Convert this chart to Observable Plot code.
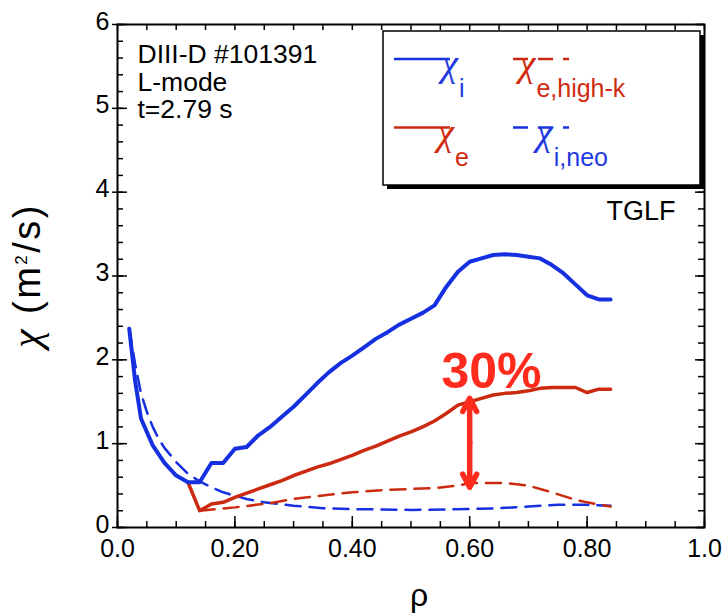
<!DOCTYPE html>
<html><head><meta charset="utf-8">
<script src="https://cdn.jsdelivr.net/npm/d3@7"></script>
<script src="https://cdn.jsdelivr.net/npm/@observablehq/plot@0.6"></script>
<style>body{margin:0;background:#fff}svg{display:block}</style>
</head><body><div id="chart"></div>
<script>
// ---- data ----
const rhoI = [0.02,0.03,0.04,0.06,0.08,0.10,0.12,0.14,0.16,0.18,0.20,0.22,0.24,0.26,0.28,0.30,0.32,0.34,0.36,0.38,0.40,0.42,0.44,0.46,0.48,0.50,0.52,0.54,0.56,0.58,0.60,0.62,0.64,0.66,0.68,0.70,0.72,0.74,0.76,0.78,0.80,0.82,0.84];
const chiI = [2.37,1.75,1.30,0.98,0.77,0.62,0.54,0.54,0.77,0.77,0.94,0.96,1.10,1.20,1.32,1.44,1.58,1.72,1.85,1.96,2.05,2.15,2.25,2.33,2.42,2.49,2.56,2.65,2.87,3.05,3.17,3.21,3.25,3.26,3.25,3.23,3.21,3.13,3.03,2.90,2.77,2.72,2.72];

const rhoE = [0.12,0.14,0.16,0.18,0.20,0.22,0.24,0.26,0.28,0.30,0.32,0.34,0.36,0.38,0.40,0.42,0.44,0.46,0.48,0.50,0.52,0.54,0.56,0.58,0.60,0.62,0.64,0.66,0.68,0.70,0.72,0.74,0.76,0.78,0.80,0.82,0.84];
const chiE = [0.54,0.20,0.28,0.30,0.36,0.41,0.46,0.51,0.56,0.62,0.67,0.72,0.76,0.81,0.86,0.92,0.97,1.03,1.09,1.14,1.20,1.27,1.36,1.46,1.50,1.54,1.58,1.60,1.61,1.63,1.66,1.67,1.67,1.67,1.61,1.65,1.65];

const rhoHighK = [0.14,0.20,0.26,0.30,0.36,0.40,0.46,0.50,0.54,0.58,0.60,0.62,0.66,0.70,0.74,0.78,0.80,0.84];
const chiHighK = [0.20,0.24,0.29,0.34,0.39,0.42,0.45,0.46,0.47,0.50,0.53,0.53,0.53,0.50,0.42,0.33,0.30,0.25];

const rhoNeo = [0.02,0.03,0.04,0.05,0.06,0.07,0.08,0.10,0.12,0.14,0.16,0.18,0.20,0.22,0.25,0.30,0.35,0.40,0.50,0.60,0.65,0.70,0.75,0.80,0.84];
const chiNeo = [2.37,1.95,1.60,1.38,1.20,1.06,0.95,0.78,0.64,0.55,0.48,0.42,0.38,0.34,0.30,0.26,0.23,0.22,0.21,0.22,0.23,0.25,0.27,0.27,0.26];

const xTicks = [0, 0.2, 0.4, 0.6, 0.8, 1.0];
const xTickLabels = ["0.0", "0.20", "0.40", "0.60", "0.80", "1.0"];
const xMinor = d3.range(0, 1.0001, 0.05);
const yTicks = [0, 1, 2, 3, 4, 5, 6];
const yMinor = d3.range(0, 6.0001, 0.2);

const infoText = "DIII-D #101391\nL-mode\nt=2.79 s";
const modelText = "TGLF";
const yLabelParts = [{t: "χ", greek: true}, {t: " (m"}, {t: "2", sup: true}, {t: "/s)"}];
const xLabel = "ρ";

// annotation: gap between chi_e and chi_e,high-k at rho = 0.6
const gapRho = [0.6];
const gapTop = [1.54];
const gapBottom = [0.48];
const gapText = ["30%"];
const gapTextPos = [{x: 0.637, y: 1.66}];

const legendItems = [
  {sym: "χ", sub: "i", color: "#1530e0", text: "#1f3be0", dash: null, col: 0, row: 0},
  {sym: "χ", sub: "e,high-k", color: "#cc2a10", text: "#d02a10", dash: "15,10", col: 1, row: 0},
  {sym: "χ", sub: "e", color: "#cc2a10", text: "#d02a10", dash: null, col: 0, row: 1},
  {sym: "χ", sub: "i,neo", color: "#1530e0", text: "#1f3be0", dash: "15,10", col: 1, row: 1}
];

// ---- tables ----
const toRows = (xs, ys) => xs.map((x, i) => ({x, y: ys[i]}));
const dI = toRows(rhoI, chiI), dE = toRows(rhoE, chiE), dK = toRows(rhoHighK, chiHighK), dN = toRows(rhoNeo, chiNeo);
const arrows = gapRho.flatMap((r, i) => {
  const mid = (gapTop[i] + gapBottom[i]) / 2;
  return [{x1: r, y1: mid, x2: r, y2: gapTop[i]}, {x1: r, y1: mid, x2: r, y2: gapBottom[i]}];
});

const FONT = "'Liberation Sans', Arial, Helvetica, sans-serif";
const GREEK = "'Liberation Serif', 'DejaVu Serif', serif";
const W = 723, H = 614, mL = 117, mR = 19, mT = 24, mB = 87;
const pW = W - mL - mR, pH = H - mT - mB;
const BLUE = "#1530e0", RED = "#cc2a10", ARED = "#ff2b1c";

const chart = Plot.plot({
  width: W, height: H,
  marginLeft: mL, marginRight: mR, marginTop: mT, marginBottom: mB,
  style: {fontFamily: FONT, background: "white", color: "black", overflow: "visible"},
  x: {domain: [0, 1]},
  y: {domain: [0, 6]},
  marks: [
    // inward ticks
    Plot.tickX(xMinor, {x: d => d, insetTop: pH - 6, stroke: "black", strokeWidth: 1.5}),
    Plot.tickX(xTicks, {x: d => d, insetTop: pH - 11, stroke: "black", strokeWidth: 1.5}),
    Plot.tickX(xMinor, {x: d => d, insetBottom: pH - 6, stroke: "black", strokeWidth: 1.5}),
    Plot.tickY(yMinor, {y: d => d, insetRight: pW - 6, stroke: "black", strokeWidth: 1.5}),
    Plot.tickY(yTicks, {y: d => d, insetLeft: -5, insetRight: pW - 10, stroke: "black", strokeWidth: 1.5}),
    Plot.tickY(yMinor, {y: d => d, insetLeft: pW - 6, stroke: "black", strokeWidth: 1.5}),
    Plot.tickY(yTicks, {y: d => d, insetLeft: pW - 9, stroke: "black", strokeWidth: 1.5}),
    Plot.axisX({ticks: xTicks, tickFormat: d => xTickLabels[xTicks.indexOf(d)], tickSize: 0, tickPadding: 12, fontSize: 25, label: null}),
    Plot.axisY({ticks: yTicks, tickFormat: d => String(d), tickSize: 0, tickPadding: 8, dy: -3, fontSize: 25, label: null}),
    // curves
    Plot.line(dN, {x: "x", y: "y", stroke: BLUE, strokeWidth: 2.5, strokeDasharray: "15,9"}),
    Plot.line(dK, {x: "x", y: "y", stroke: RED, strokeWidth: 2.5, strokeDasharray: "15,9"}),
    Plot.line(dE, {x: "x", y: "y", stroke: RED, strokeWidth: 3.5, strokeLinejoin: "round"}),
    Plot.line(dI, {x: "x", y: "y", stroke: BLUE, strokeWidth: 4, strokeLinejoin: "round"}),
    // annotation
    Plot.arrow(arrows, {x1: "x1", y1: "y1", x2: "x2", y2: "y2", stroke: ARED, strokeWidth: 5.5, headLength: 36, headAngle: 56, strokeLinecap: "round", strokeLinejoin: "round"}),
    Plot.text(gapText, {x: (d, i) => gapTextPos[i].x, y: (d, i) => gapTextPos[i].y, text: d => d, fill: ARED, fontSize: 50, fontWeight: "bold", lineAnchor: "bottom", textAnchor: "middle"}),
    // frame
    Plot.frame({stroke: "black", strokeWidth: 2}),
    // texts
    Plot.text([infoText], {frameAnchor: "top-left", dx: 20, dy: 19, lineAnchor: "top", textAnchor: "start", fontSize: 26.5, lineHeight: 1.04, fill: "black"}),
    Plot.text([modelText], {frameAnchor: "top-right", dx: -29, dy: 176, lineAnchor: "top", textAnchor: "end", fontSize: 27, fill: "black"}),
    Plot.text([xLabel], {frameAnchor: "bottom", dx: 8, dy: 78, textAnchor: "middle", lineAnchor: "bottom", fontSize: 32, fill: "black"})
  ]
});

document.getElementById("chart").appendChild(chart);
const svg = d3.select(chart);

// y-axis label (rich text: Greek chi and superscript 2), centred on the frame
const yl = svg.append("text")
  .attr("transform", `translate(${mL - 77},${(mT + H - mB) / 2}) rotate(-90)`)
  .attr("text-anchor", "middle")
  .style("font-family", FONT).style("font-size", "38px").style("letter-spacing", "2.5px").attr("fill", "black");
yLabelParts.forEach(p => {
  const s = yl.append("tspan").text(p.t);
  if (p.greek) s.style("font-family", GREEK).style("font-style", "italic").style("font-size", "42px");
  if (p.sup) s.style("font-size", "17px").attr("dy", -13);
  else if (p.t === "/s)") s.attr("dy", 13);
});

// ---- legend box (drawn in pixel space of the frame) ----
const g = svg.append("g").style("font-family", FONT);
const bx = 383, by = 31, bw = 317, bh = 154;
g.append("rect").attr("x", bx + 4).attr("y", by + 4).attr("width", bw).attr("height", bh).attr("fill", "black");
g.append("rect").attr("x", bx).attr("y", by).attr("width", bw).attr("height", bh).attr("fill", "white").attr("stroke", "black").attr("stroke-width", 1.5);
const colX = [394, 513], rowY = [59, 127.5];
legendItems.forEach(it => {
  const x0 = colX[it.col], y0 = rowY[it.row];
  g.append("line").attr("x1", x0).attr("x2", x0 + 56).attr("y1", y0).attr("y2", y0)
    .attr("stroke", it.color).attr("stroke-width", 2.5).attr("stroke-dasharray", it.dash);
  const t = g.append("text").attr("x", x0 + 59).attr("y", y0 + 17).attr("fill", it.text).style("font-size", "34px");
  t.append("tspan").style("font-family", GREEK).style("font-style", "italic").style("font-size", "38px").text(it.sym);
  t.append("tspan").style("font-size", "25px").attr("dy", 21).attr("dx", 1).text(it.sub);
});
</script>
</body></html>
